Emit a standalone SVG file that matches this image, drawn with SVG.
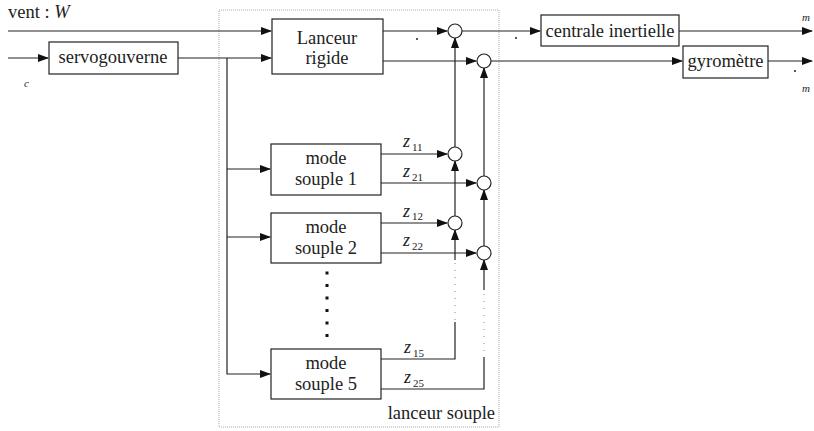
<svg xmlns="http://www.w3.org/2000/svg" width="814" height="431" viewBox="0 0 814 431">
<defs>
<marker id="ah" markerWidth="11" markerHeight="8" refX="10" refY="4" orient="auto" markerUnits="userSpaceOnUse">
<path d="M0,0 L11,4 L0,8 Z" fill="#111"/>
</marker>
<style>
.box{fill:#fff;stroke:#222;stroke-width:1.2}
.ln{fill:none;stroke:#222;stroke-width:1.2}
.dl{fill:none;stroke:#888;stroke-width:1;stroke-dasharray:1 6}
.sum{fill:#fff;stroke:#222;stroke-width:1.2}
.t{font-family:"Liberation Serif","Times New Roman",serif;font-size:18.5px;fill:#222}
.tc{text-anchor:middle}
.it{font-family:"Liberation Serif","Times New Roman",serif;font-style:italic;fill:#222}
.sub{font-family:"Liberation Serif","Times New Roman",serif;font-size:11px;fill:#222}
</style>
</defs>
<rect width="814" height="431" fill="#fff"/>
<rect id="lanceur-souple" x="219" y="10" width="280" height="417" fill="none" stroke="#aaa" stroke-width="1" stroke-dasharray="1 1"/>
<text class="t" x="495" y="419" text-anchor="end">lanceur souple</text>

<g id="connectors">
<line class="ln" x1="8" y1="31" x2="271" y2="31" marker-end="url(#ah)"/>
<line class="ln" x1="8" y1="58" x2="48" y2="58" marker-end="url(#ah)"/>
<line class="ln" x1="178" y1="58" x2="271" y2="58" marker-end="url(#ah)"/>
<polyline class="ln" points="227,58 227,374 270,374" marker-end="url(#ah)"/>
<line class="ln" x1="227" y1="169" x2="270" y2="169" marker-end="url(#ah)"/>
<line class="ln" x1="227" y1="237" x2="270" y2="237" marker-end="url(#ah)"/>
<line class="ln" x1="383" y1="31" x2="447" y2="31" marker-end="url(#ah)"/>
<line class="ln" x1="383" y1="61" x2="476" y2="61" marker-end="url(#ah)"/>
<line class="ln" x1="462" y1="31" x2="540" y2="31" stroke="#555" marker-end="url(#ah)"/>
<line class="ln" x1="491" y1="61" x2="682" y2="61" marker-end="url(#ah)"/>
<line class="ln" x1="679" y1="31" x2="812" y2="31" stroke="#555" marker-end="url(#ah)"/>
<line class="ln" x1="768" y1="61" x2="812" y2="61" marker-end="url(#ah)"/>
<line class="ln" x1="381" y1="154" x2="447" y2="154" marker-end="url(#ah)"/>
<line class="ln" x1="381" y1="183" x2="476" y2="183" marker-end="url(#ah)"/>
<line class="ln" x1="381" y1="223" x2="447" y2="223" marker-end="url(#ah)"/>
<line class="ln" x1="381" y1="253" x2="476" y2="253" marker-end="url(#ah)"/>
<line class="ln" x1="455" y1="147" x2="455" y2="38" marker-end="url(#ah)"/>
<line class="ln" x1="455" y1="216" x2="455" y2="161" marker-end="url(#ah)"/>
<line class="ln" x1="484" y1="176" x2="484" y2="68" marker-end="url(#ah)"/>
<line class="ln" x1="484" y1="246" x2="484" y2="190" marker-end="url(#ah)"/>
<line class="ln" x1="455" y1="260" x2="455" y2="230" marker-end="url(#ah)"/>
<line class="ln" x1="484" y1="290" x2="484" y2="260" marker-end="url(#ah)"/>
<line class="dl" x1="455" y1="263" x2="455" y2="320"/>
<line class="dl" x1="484" y1="294" x2="484" y2="356"/>
<polyline class="ln" points="381,359 455,359 455,322"/>
<polyline class="ln" points="381,389 484,389 484,357"/>
</g>

<g id="sums">
<circle class="sum" cx="455" cy="31" r="7"/>
<circle class="sum" cx="484" cy="61" r="7"/>
<circle class="sum" cx="455" cy="154" r="7"/>
<circle class="sum" cx="484" cy="183" r="7"/>
<circle class="sum" cx="455" cy="223" r="7"/>
<circle class="sum" cx="484" cy="253" r="7"/>
</g>

<g id="servogouverne">
<rect class="box" x="49" y="42" width="129" height="32"/>
<text class="t tc" x="113" y="63">servogouverne</text>
</g>
<g id="lanceur-rigide">
<rect class="box" x="272" y="19" width="111" height="55"/>
<text class="t tc" x="327" y="44">Lanceur</text>
<text class="t tc" x="327" y="64">rigide</text>
</g>
<g id="centrale">
<rect class="box" x="541" y="15" width="138" height="31"/>
<text class="t tc" x="610" y="37">centrale inertielle</text>
</g>
<g id="gyrometre">
<rect class="box" x="683" y="46" width="85" height="32"/>
<text class="t tc" x="725.5" y="67">gyromètre</text>
</g>
<g id="mode1">
<rect class="box" x="271" y="144" width="110" height="51"/>
<text class="t tc" x="326" y="164">mode</text>
<text class="t tc" x="326" y="185">souple 1</text>
</g>
<g id="mode2">
<rect class="box" x="271" y="213" width="110" height="50"/>
<text class="t tc" x="326" y="233">mode</text>
<text class="t tc" x="326" y="254">souple 2</text>
</g>
<g id="mode5">
<rect class="box" x="271" y="349" width="110" height="50"/>
<text class="t tc" x="326" y="369">mode</text>
<text class="t tc" x="326" y="390">souple 5</text>
</g>

<g id="ellipsis" fill="#111">
<rect x="325.5" y="271.5" width="3" height="3"/>
<rect x="325.5" y="284" width="3" height="3"/>
<rect x="325.5" y="296.5" width="3" height="3"/>
<rect x="325.5" y="309" width="3" height="3"/>
<rect x="325.5" y="321.5" width="3" height="3"/>
<rect x="325.5" y="334" width="3" height="3"/>
</g>

<g id="labels">
<text class="t" x="8" y="18">vent : <tspan font-style="italic">W</tspan></text>
<text class="it" x="24" y="87" font-size="11">c</text>
<text class="it" x="802" y="21" font-size="11">m</text>
<text class="it" x="802" y="92" font-size="11">m</text>
<circle cx="417" cy="39" r="1" fill="#222"/>
<circle cx="516" cy="38" r="1" fill="#222"/>
<circle cx="795" cy="71" r="1" fill="#222"/>
<text class="it" x="403" y="147" font-size="18">z</text><text class="sub" x="412" y="151">11</text>
<text class="it" x="403" y="177" font-size="18">z</text><text class="sub" x="412" y="181">21</text>
<text class="it" x="403" y="217" font-size="18">z</text><text class="sub" x="412" y="220">12</text>
<text class="it" x="403" y="246" font-size="18">z</text><text class="sub" x="412" y="250">22</text>
<text class="it" x="404" y="353" font-size="18">z</text><text class="sub" x="413" y="357">15</text>
<text class="it" x="404" y="383" font-size="18">z</text><text class="sub" x="413" y="387">25</text>
</g>
</svg>
